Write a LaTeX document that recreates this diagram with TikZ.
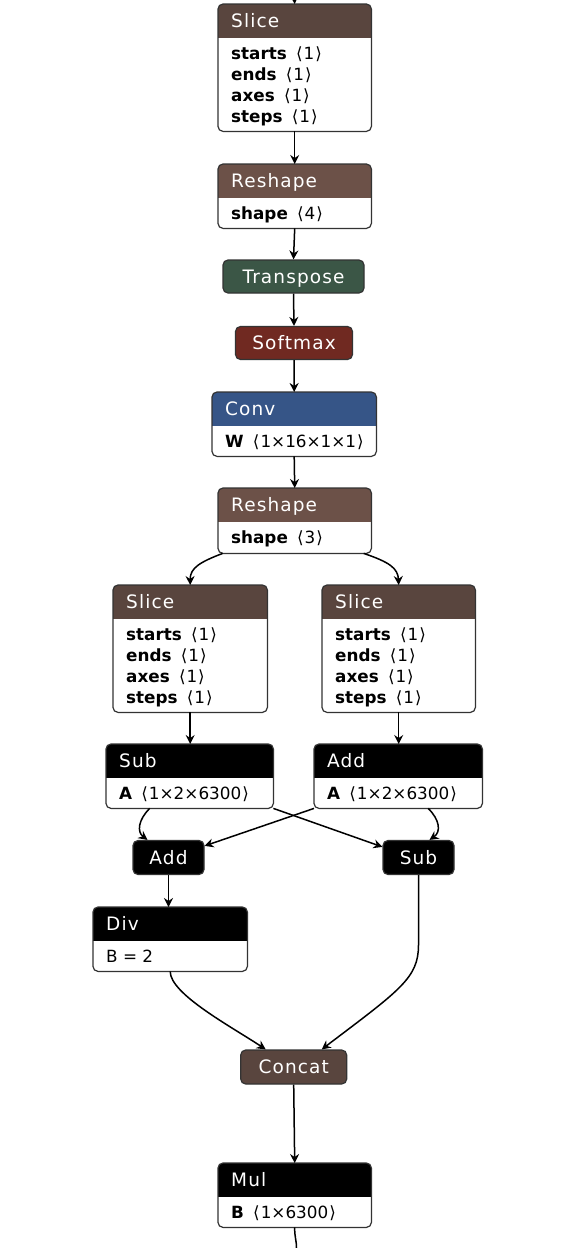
\documentclass[tikz,border=0pt]{standalone}
\usepackage{fontspec}
\setmainfont{DejaVu Sans}
\newfontfamily\headfont[LetterSpace=6]{DejaVu Sans}
\usetikzlibrary{arrows.meta}

\definecolor{tensorc}{RGB}{89,69,62}
\definecolor{shapec}{RGB}{108,81,72}
\definecolor{transformc}{RGB}{59,86,70}
\definecolor{activc}{RGB}{112,41,33}
\definecolor{layerc}{RGB}{54,85,135}
\definecolor{framec}{RGB}{51,51,51}

\tikzset{
  edge/.style={line width=1.5pt, -{Stealth[length=9pt,width=9pt,inset=3pt]}},
  frame/.style={draw=framec, line width=1.2pt, rounded corners=5pt},
  optext/.style={text=white, font=\headfont\fontsize{18.5}{21}\selectfont, inner sep=0pt},
  rowtext/.style={font=\fontsize{16.8}{21}\selectfont, inner sep=0pt},
  smallop/.style={frame, text=white, font=\headfont\fontsize{18.5}{21}\selectfont,
    inner sep=0pt, text height=13pt, text depth=0pt},
}

% attribute value in angle brackets
\newcommand{\val}[1]{\hspace{0.55em}⟨\kern1pt#1\kern1pt⟩}

% operator box: name, top-left, width, height, colour, header, rows
\newcommand{\opnode}[7]{%
  \node[minimum width=#3, minimum height=#4, inner sep=0pt, anchor=north west] (#1) at #2 {};
  \begin{scope}
    \clip[rounded corners=5pt] (#1.north west) rectangle (#1.south east);
    \fill[white] (#1.north west) rectangle (#1.south east);
    \fill[#5] (#1.north west) rectangle ([yshift=-34pt]#1.north east);
  \end{scope}
  \draw[frame] (#1.north west) rectangle (#1.south east);
  \node[optext, anchor=base west] at ([xshift=13pt, yshift=-23.5pt]#1.north west) {#6};
  \foreach \attr [count=\i] in {#7}
    \node[rowtext, anchor=base west] at ([xshift=13pt, yshift={-34pt-21pt*\i}]#1.north west) {\attr};
}

\begin{document}
\begin{tikzpicture}[x=1pt, y=-1pt]
    \useasboundingbox (0,0) rectangle (574,1248);

    % Top chain
    \opnode{slicea}{(218,4)}{153}{127}{tensorc}{Slice}{\textbf{starts}\val{1}, \textbf{ends}\val{1}, \textbf{axes}\val{1}, \textbf{steps}\val{1}}
    \opnode{reshapea}{(218,164)}{153}{64}{shapec}{Reshape}{\textbf{shape}\val{4}}
    \node[smallop, fill=transformc, minimum width=141, minimum height=33] (transpose) at (293.5,276.5) {Transpose};
    \node[smallop, fill=activc, minimum width=117, minimum height=33] (softmax) at (294,343) {Softmax};
    \opnode{conv}{(212,392)}{164}{64}{layerc}{Conv}{\textbf{W}\val{1×16×1×1}}
    \opnode{reshapeb}{(218,488)}{153}{65}{shapec}{Reshape}{\textbf{shape}\val{3}}

    % Two branches
    \opnode{sliceb}{(113,585)}{154}{127}{tensorc}{Slice}{\textbf{starts}\val{1}, \textbf{ends}\val{1}, \textbf{axes}\val{1}, \textbf{steps}\val{1}}
    \opnode{slicec}{(322,585)}{153}{127}{tensorc}{Slice}{\textbf{starts}\val{1}, \textbf{ends}\val{1}, \textbf{axes}\val{1}, \textbf{steps}\val{1}}
    \opnode{subb}{(106,744)}{167}{64}{black}{Sub}{\textbf{A}\val{1×2×6300}}
    \opnode{addb}{(314,744)}{168}{64}{black}{Add}{\textbf{A}\val{1×2×6300}}
    \node[smallop, fill=black, minimum width=71, minimum height=34] (adds) at (168.5,857.5) {Add};
    \node[smallop, fill=black, minimum width=71, minimum height=34] (subs) at (418.5,857.5) {Sub};
    \opnode{div}{(93,907)}{154}{64}{black}{Div}{B = 2}

    % Bottom chain
    \node[smallop, fill=tensorc, minimum width=106, minimum height=34] (concat) at (293.7,1067) {Concat};
    \opnode{mul}{(218,1163)}{153}{64}{black}{Mul}{\textbf{B}\val{1×6300}}

    % Straight edges
    \coordinate (in) at (294.5,0);
    \coordinate (out) at (296.5,1248);
    \draw[edge] (in) -- (slicea.north);
    \draw[edge] (slicea.south) -- (reshapea.north);
    \draw[edge] (reshapea.south) -- (transpose.north);
    \draw[edge] (transpose.south) -- (softmax.north);
    \draw[edge] (softmax.south) -- (conv.north);
    \draw[edge] (conv.south) -- (reshapeb.north);
    \draw[edge] (sliceb.south) -- (subb.north -| sliceb.south);
    \draw[edge] (slicec.south) -- (addb.north -| slicec.south);
    \draw[edge] (adds.south) -- (adds.south |- div.north);
    \draw[edge] (concat.south) -- (mul.north);
    \draw[line width=1.5pt] (mul.south) .. controls (294.5,1237) and (296.5,1240) .. (out);

    % Curved edges
    \draw[edge] ([xshift=-72pt]reshapeb.south) .. controls (200,562) and (190,568) .. (sliceb.north);
    \draw[edge] ([xshift=69pt]reshapeb.south) .. controls (389,562) and (398,568) .. (slicec.north);
    \draw[edge] ([xshift=-40pt]subb.south) .. controls (138,820) and (137,832) .. ([xshift=-21pt]adds.north);
    \draw[edge] ([xshift=30pt]addb.south) .. controls (440,820) and (441,832) .. ([xshift=11pt]subs.north);

    % Crossing edges
    \draw[edge] (addb.south west) -- ([yshift=-6pt]adds.north east);
    \draw[edge] (subb.south east) -- ([yshift=-7pt]subs.north west);

    % Into Concat
    \draw[edge] (div.south) .. controls (170,994) and (232,1027) .. ([xshift=-28pt]concat.north);
    \draw[edge] (subs.south) -- (418.5,945) .. controls (418.5,978) and (400,990) .. ([xshift=28pt]concat.north);
\end{tikzpicture}
\end{document}
